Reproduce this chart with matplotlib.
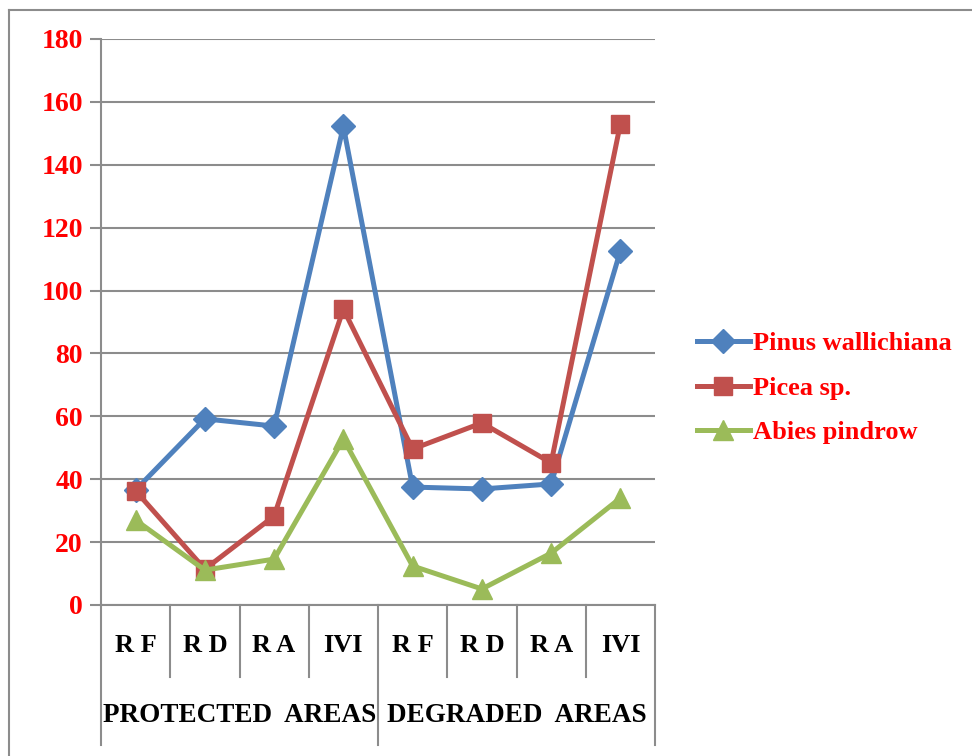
import matplotlib
matplotlib.use("Agg")
import matplotlib.pyplot as plt
from matplotlib.lines import Line2D

# two-level x axis: site type within area class
sites = ["R F", "R D", "R A", "IVI", "R F", "R D", "R A", "IVI"]
groups = ["PROTECTED  AREAS", "DEGRADED  AREAS"]

pinus = [36.6, 59.2, 56.9, 152.2, 37.5, 36.9, 38.5, 112.6]
picea = [36.3, 11.4, 28.3, 94.1, 49.6, 57.9, 45.2, 153.0]
abies = [27.0, 11.1, 14.6, 52.8, 12.4, 5.1, 16.5, 34.0]

names = ["Pinus wallichiana", "Picea sp.", "Abies pindrow"]
colors = ["#4F81BD", "#C0504D", "#9BBB59"]
markers = ["D", "s", "^"]
msizes = [12, 13, 15]

plt.rcParams["font.family"] = ["Liberation Serif", "DejaVu Serif"]
plt.rcParams["font.weight"] = "bold"

fig = plt.figure(figsize=(9.72, 7.56), dpi=100)
ax = fig.add_axes([101 / 972, 151 / 756, 554 / 972, 566 / 756])

gray = "#8c8c8c"
x = list(range(len(sites)))
for vals, c, m, ms in zip([pinus, picea, abies], colors, markers, msizes):
    ax.plot(x, vals, color=c, lw=3.6, marker=m, markersize=ms, zorder=3)

ax.set_xlim(-0.5, len(sites) - 0.5)
ax.set_ylim(0, 180)
ax.set_yticks(range(0, 181, 20))
ax.tick_params(axis="y", colors=gray, length=8, width=1.5, labelsize=20,
               labelcolor="red", pad=5)
for lab in ax.get_yticklabels():
    lab.set_fontweight("bold")
ax.set_xticks([])
ax.grid(axis="y", color=gray, lw=1.5)
ax.set_axisbelow(True)
for s in ["top", "right"]:
    ax.spines[s].set_visible(False)
ax.spines["left"].set_color(gray)
ax.spines["left"].set_linewidth(1.5)
ax.spines["bottom"].set_color(gray)
ax.spines["bottom"].set_linewidth(1.5)

# category boxes under the axis
tr = ax.get_xaxis_transform()
y1 = -72 / 566
y2 = -140 / 566
for k in range(len(sites) + 1):
    low = y2 if k % 4 == 0 else y1
    ax.plot([k - 0.5, k - 0.5], [0, low], color=gray, lw=1.5,
            transform=tr, clip_on=False)
for i, s in enumerate(sites):
    ax.text(i, -40 / 566, s, transform=tr, ha="center", va="center",
            fontsize=19, fontweight="bold")
for g, name in enumerate(groups):
    ax.text(g * 4 + 1.5, -111 / 566, name, transform=tr, ha="center",
            va="center", fontsize=19.5, fontweight="bold")

# left and top frame lines of the chart area
fig.add_artist(Line2D([9 / 972, 9 / 972], [0, 1 - 10 / 756],
                      color=gray, lw=1.5))
fig.add_artist(Line2D([9 / 972, 1], [1 - 10 / 756, 1 - 10 / 756],
                      color=gray, lw=1.5))

handles = [Line2D([], [], color=c, lw=3.6, marker=m, markersize=ms)
           for c, m, ms in zip(colors, markers, msizes)]
leg = fig.legend(handles, names, loc="center left",
                 bbox_to_anchor=(673 / 972, 1 - 388 / 756), frameon=False,
                 fontsize=19, handlelength=2.0, handletextpad=0.15,
                 labelspacing=0.8)
for t in leg.get_texts():
    t.set_color("red")
    t.set_fontweight("bold")

fig.savefig("out.png", dpi=100)
